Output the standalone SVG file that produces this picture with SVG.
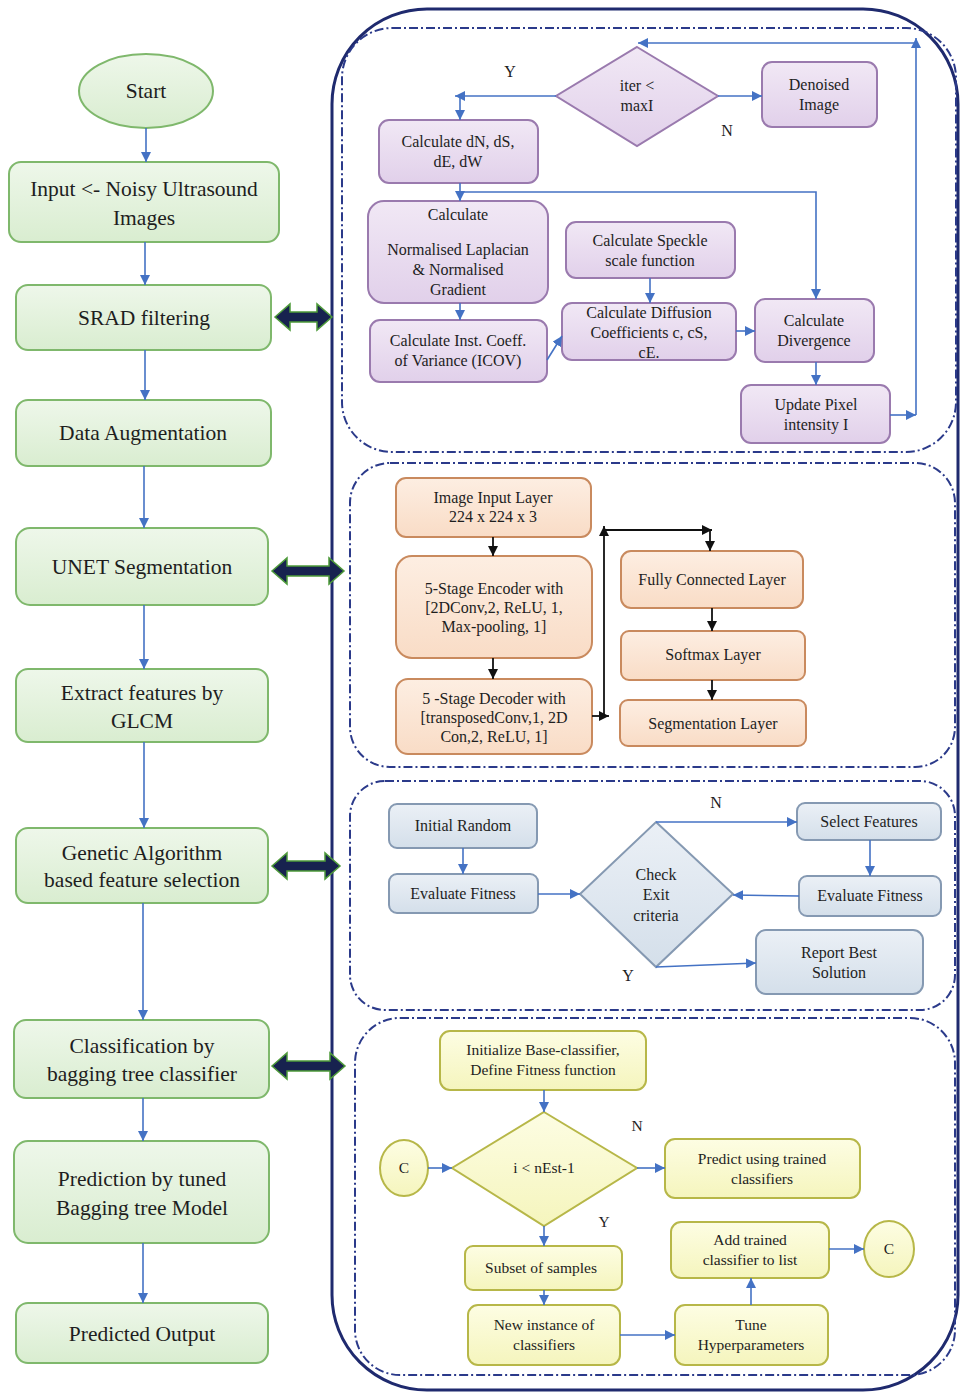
<svg xmlns="http://www.w3.org/2000/svg" width="961" height="1394" viewBox="0 0 961 1394">
<style>
text{font-family:"Liberation Serif","Times New Roman",serif;fill:#1e1e1e;text-anchor:middle}
.L{font-size:21.5px}
.s15{font-size:16px}
.s14{font-size:16px}
.s13{font-size:15.5px}
.g{fill:url(#gG);stroke:#7fb86c;stroke-width:2}
.p{fill:url(#gP);stroke:#9a7aae;stroke-width:2}
.o{fill:url(#gO);stroke:#c98a5e;stroke-width:2}
.b{fill:url(#gB);stroke:#8599b2;stroke-width:2}
.y{fill:url(#gY);stroke:#b7b748;stroke-width:2}
.c{fill:none;stroke:#4472c4;stroke-width:1.6}
.k{fill:none;stroke:#111;stroke-width:1.8}
.panel{fill:none;stroke:#2b3a8a;stroke-width:2;stroke-dasharray:9 3 2 3}
.dbl{fill:#17224f;stroke:#4e9a3a;stroke-width:1.5}
</style>
<defs>
<linearGradient id="gG" x1="0" y1="0" x2="0" y2="1"><stop offset="0" stop-color="#eef7ea"/><stop offset="1" stop-color="#d9edd0"/></linearGradient>
<linearGradient id="gP" x1="0" y1="0" x2="0" y2="1"><stop offset="0" stop-color="#f1e8f5"/><stop offset="1" stop-color="#e1d0ea"/></linearGradient>
<linearGradient id="gO" x1="0" y1="0" x2="0" y2="1"><stop offset="0" stop-color="#fdeee2"/><stop offset="1" stop-color="#f9dcc6"/></linearGradient>
<linearGradient id="gB" x1="0" y1="0" x2="0" y2="1"><stop offset="0" stop-color="#ebf0f6"/><stop offset="1" stop-color="#d4dfea"/></linearGradient>
<linearGradient id="gY" x1="0" y1="0" x2="0" y2="1"><stop offset="0" stop-color="#fdfde3"/><stop offset="1" stop-color="#f5f5bd"/></linearGradient>
<marker id="ab" viewBox="0 0 10 10" refX="10" refY="5" markerWidth="10" markerHeight="10" markerUnits="userSpaceOnUse" orient="auto"><path d="M0,0 L10,5 L0,10 z" fill="#4472c4"/></marker>
<marker id="ak" viewBox="0 0 10 10" refX="10" refY="5" markerWidth="10" markerHeight="10" markerUnits="userSpaceOnUse" orient="auto"><path d="M0,0 L10,5 L0,10 z" fill="#111"/></marker>
</defs>

<!-- outer container and panels -->
<g id="containers">
<rect x="332" y="9" width="626" height="1381" rx="95" fill="none" stroke="#1f2a6e" stroke-width="3"/>
<rect class="panel" x="342" y="28" width="614" height="424" rx="50"/>
<rect class="panel" x="350" y="463" width="605" height="304" rx="40"/>
<rect class="panel" x="350" y="781" width="605" height="229" rx="35"/>
<rect class="panel" x="355" y="1018" width="600" height="357" rx="45"/>
</g>

<!-- double arrows -->
<g id="links">
<polygon class="dbl" points="275,317 290,304 290,312 317,312 317,304 332,317 317,330 317,322 290,322 290,330"/>
<polygon class="dbl" points="272,571 287,558 287,566 329,566 329,558 344,571 329,584 329,576 287,576 287,584"/>
<polygon class="dbl" points="272,866 287,853 287,861 325,861 325,853 340,866 325,879 325,871 287,871 287,879"/>
<polygon class="dbl" points="272,1066 287,1053 287,1061 330,1061 330,1053 345,1066 330,1079 330,1071 287,1071 287,1079"/>
</g>

<!-- left column -->
<g id="start"><ellipse class="g" cx="146" cy="91" rx="67" ry="37"/><text class="L" x="146" y="98">Start</text></g>
<g id="input"><rect class="g" x="9" y="162" width="270" height="80" rx="12"/><text class="L" x="144" y="196">Input &lt;- Noisy Ultrasound</text><text class="L" x="144" y="225">Images</text></g>
<g id="srad"><rect class="g" x="16" y="285" width="255" height="65" rx="12"/><text class="L" x="144" y="325">SRAD filtering</text></g>
<g id="aug"><rect class="g" x="16" y="400" width="255" height="66" rx="12"/><text class="L" x="143" y="440">Data Augmentation</text></g>
<g id="unet"><rect class="g" x="16" y="528" width="252" height="77" rx="14"/><text class="L" x="142" y="574">UNET  Segmentation</text></g>
<g id="glcm"><rect class="g" x="16" y="669" width="252" height="73" rx="12"/><text class="L" x="142" y="700">Extract  features by</text><text class="L" x="142" y="728">GLCM</text></g>
<g id="ga"><rect class="g" x="16" y="828" width="252" height="75" rx="12"/><text class="L" x="142" y="860">Genetic Algorithm</text><text class="L" x="142" y="887">based feature selection</text></g>
<g id="cls"><rect class="g" x="14" y="1020" width="255" height="78" rx="12"/><text class="L" x="142" y="1053">Classification by</text><text class="L" x="142" y="1081">bagging tree classifier</text></g>
<g id="pred"><rect class="g" x="14" y="1141" width="255" height="102" rx="14"/><text class="L" x="142" y="1186">Prediction by tuned</text><text class="L" x="142" y="1215">Bagging tree Model</text></g>
<g id="out"><rect class="g" x="16" y="1303" width="252" height="60" rx="12"/><text class="L" x="142" y="1341">Predicted Output</text></g>

<!-- SRAD panel nodes -->
<g id="iter"><polygon class="p" points="637,47 718,96 637,146 556,96"/><text class="s15" x="637" y="91">iter &lt;</text><text class="s15" x="637" y="111">maxI</text></g>
<g id="denoised"><rect class="p" x="762" y="62" width="115" height="65" rx="10"/><text class="s15" x="819" y="90">Denoised</text><text class="s15" x="819" y="110">Image</text></g>
<g id="dn"><rect class="p" x="379" y="120" width="159" height="63" rx="10"/><text class="s15" x="458" y="147">Calculate dN, dS,</text><text class="s15" x="458" y="167">dE, dW</text></g>
<g id="lap"><rect class="p" x="368" y="201" width="180" height="102" rx="16"/><text class="s15" x="458" y="220">Calculate</text><text class="s15" x="458" y="255">Normalised Laplacian</text><text class="s15" x="458" y="275">&amp; Normalised</text><text class="s15" x="458" y="295">Gradient</text></g>
<g id="speckle"><rect class="p" x="566" y="222" width="169" height="56" rx="10"/><text class="s15" x="650" y="246">Calculate Speckle</text><text class="s15" x="650" y="266">scale function</text></g>
<g id="icov"><rect class="p" x="370" y="320" width="177" height="62" rx="10"/><text class="s15" x="458" y="346">Calculate Inst. Coeff.</text><text class="s15" x="458" y="366">of Variance (ICOV)</text></g>
<g id="diff"><rect class="p" x="562" y="303" width="174" height="57" rx="10"/><text class="s15" x="649" y="318">Calculate Diffusion</text><text class="s15" x="649" y="338">Coefficients c, cS,</text><text class="s15" x="649" y="358">cE.</text></g>
<g id="div"><rect class="p" x="755" y="299" width="119" height="63" rx="10"/><text class="s15" x="814" y="326">Calculate</text><text class="s15" x="814" y="346">Divergence</text></g>
<g id="upd"><rect class="p" x="741" y="385" width="149" height="58" rx="10"/><text class="s15" x="816" y="410">Update Pixel</text><text class="s15" x="816" y="430">intensity I</text></g>
<g id="srad-labels"><text class="s15" x="510" y="77">Y</text><text class="s15" x="727" y="136">N</text></g>

<!-- UNET panel nodes -->
<g id="inlayer"><rect class="o" x="396" y="478" width="195" height="59" rx="10"/><text class="s14" x="493" y="503">Image Input Layer</text><text class="s14" x="493" y="522">224 x 224 x 3</text></g>
<g id="enc"><rect class="o" x="396" y="556" width="196" height="102" rx="16"/><text class="s14" x="494" y="594">5-Stage Encoder with</text><text class="s14" x="494" y="613">[2DConv,2, ReLU, 1,</text><text class="s14" x="494" y="632">Max-pooling, 1]</text></g>
<g id="dec"><rect class="o" x="396" y="679" width="196" height="75" rx="12"/><text class="s14" x="494" y="704">5 -Stage Decoder with</text><text class="s14" x="494" y="723">[transposedConv,1, 2D</text><text class="s14" x="494" y="742">Con,2, ReLU, 1]</text></g>
<g id="fc"><rect class="o" x="621" y="551" width="182" height="57" rx="10"/><text class="s14" x="712" y="585">Fully Connected Layer</text></g>
<g id="soft"><rect class="o" x="621" y="631" width="184" height="49" rx="8"/><text class="s14" x="713" y="660">Softmax Layer</text></g>
<g id="seg"><rect class="o" x="620" y="700" width="186" height="46" rx="8"/><text class="s14" x="713" y="729">Segmentation Layer</text></g>

<!-- GA panel nodes -->
<g id="initrand"><rect class="b" x="389" y="804" width="148" height="44" rx="8"/><text class="s14" x="463" y="831">Initial Random</text></g>
<g id="evall"><rect class="b" x="389" y="874" width="149" height="39" rx="8"/><text class="s14" x="463" y="899">Evaluate Fitness</text></g>
<g id="check"><polygon class="b" points="656,822 733,894 656,967 580,894"/><text class="s14" x="656" y="880">Check</text><text class="s14" x="656" y="900">Exit</text><text class="s14" x="656" y="921">criteria</text></g>
<g id="selfeat"><rect class="b" x="797" y="803" width="144" height="37" rx="8"/><text class="s14" x="869" y="827">Select Features</text></g>
<g id="evalr"><rect class="b" x="799" y="876" width="142" height="40" rx="8"/><text class="s14" x="870" y="901">Evaluate Fitness</text></g>
<g id="report"><rect class="b" x="756" y="930" width="167" height="64" rx="10"/><text class="s14" x="839" y="958">Report Best</text><text class="s14" x="839" y="978">Solution</text></g>
<g id="ga-labels"><text class="s14" x="716" y="808">N</text><text class="s14" x="628" y="981">Y</text></g>

<!-- Bagging panel nodes -->
<g id="initbase"><rect class="y" x="440" y="1031" width="206" height="59" rx="10"/><text class="s13" x="543" y="1055">Initialize Base-classifier,</text><text class="s13" x="543" y="1075">Define Fitness function</text></g>
<g id="nest"><polygon class="y" points="544,1112 637,1168 544,1226 452,1168"/><text class="s13" x="544" y="1173">i &lt; nEst-1</text></g>
<g id="c1"><ellipse class="y" cx="404" cy="1168" rx="24" ry="28"/><text class="s13" x="404" y="1173">C</text></g>
<g id="predict"><rect class="y" x="665" y="1139" width="195" height="59" rx="10"/><text class="s13" x="762" y="1164">Predict using trained</text><text class="s13" x="762" y="1184">classifiers</text></g>
<g id="subset"><rect class="y" x="465" y="1246" width="157" height="44" rx="8"/><text class="s13" x="541" y="1273">Subset of samples</text></g>
<g id="newinst"><rect class="y" x="468" y="1305" width="152" height="60" rx="10"/><text class="s13" x="544" y="1330">New instance of</text><text class="s13" x="544" y="1350">classifiers</text></g>
<g id="tune"><rect class="y" x="675" y="1305" width="153" height="60" rx="10"/><text class="s13" x="751" y="1330">Tune</text><text class="s13" x="751" y="1350">Hyperparameters</text></g>
<g id="addlist"><rect class="y" x="671" y="1222" width="158" height="56" rx="10"/><text class="s13" x="750" y="1245">Add  trained</text><text class="s13" x="750" y="1265">classifier to list</text></g>
<g id="c2"><ellipse class="y" cx="889" cy="1249" rx="25" ry="28"/><text class="s13" x="889" y="1254">C</text></g>
<g id="bag-labels"><text class="s13" x="637" y="1131">N</text><text class="s13" x="604" y="1227">Y</text></g>

<!-- connectors -->
<g id="connectors">
<line class="c" x1="146" y1="128" x2="146" y2="162" marker-end="url(#ab)"/>
<line class="c" x1="145" y1="242" x2="145" y2="285" marker-end="url(#ab)"/>
<line class="c" x1="145" y1="350" x2="145" y2="400" marker-end="url(#ab)"/>
<line class="c" x1="144" y1="466" x2="144" y2="528" marker-end="url(#ab)"/>
<line class="c" x1="144" y1="605" x2="144" y2="669" marker-end="url(#ab)"/>
<line class="c" x1="144" y1="742" x2="144" y2="828" marker-end="url(#ab)"/>
<line class="c" x1="143" y1="903" x2="143" y2="1020" marker-end="url(#ab)"/>
<line class="c" x1="143" y1="1098" x2="143" y2="1141" marker-end="url(#ab)"/>
<line class="c" x1="143" y1="1243" x2="143" y2="1303" marker-end="url(#ab)"/>

<!-- SRAD -->
<line class="c" x1="556" y1="96" x2="455" y2="96" marker-end="url(#ab)"/>
<line class="c" x1="460" y1="96" x2="460" y2="120" marker-end="url(#ab)"/>
<line class="c" x1="718" y1="96" x2="762" y2="96" marker-end="url(#ab)"/>
<line class="c" x1="460" y1="183" x2="460" y2="201" marker-end="url(#ab)"/>
<polyline class="c" points="460,192 816,192 816,299" marker-end="url(#ab)"/>
<line class="c" x1="460" y1="303" x2="460" y2="320" marker-end="url(#ab)"/>
<line class="c" x1="547" y1="360" x2="562" y2="336" marker-end="url(#ab)"/>
<line class="c" x1="650" y1="278" x2="650" y2="303" marker-end="url(#ab)"/>
<line class="c" x1="736" y1="331" x2="755" y2="331" marker-end="url(#ab)"/>
<line class="c" x1="816" y1="362" x2="816" y2="385" marker-end="url(#ab)"/>
<line class="c" x1="890" y1="415" x2="916" y2="415" marker-end="url(#ab)"/>
<line class="c" x1="916" y1="415" x2="916" y2="38" marker-end="url(#ab)"/>
<line class="c" x1="916" y1="43" x2="638" y2="43" marker-end="url(#ab)"/>

<!-- UNET -->
<line class="k" x1="493" y1="537" x2="493" y2="556" marker-end="url(#ak)"/>
<line class="k" x1="493" y1="658" x2="493" y2="679" marker-end="url(#ak)"/>
<line class="k" x1="592" y1="716" x2="609" y2="716" marker-end="url(#ak)"/>
<line class="k" x1="604" y1="716" x2="604" y2="526" marker-end="url(#ak)"/>
<line class="k" x1="604" y1="530" x2="712" y2="530" marker-end="url(#ak)"/>
<line class="k" x1="710" y1="530" x2="710" y2="551" marker-end="url(#ak)"/>
<line class="k" x1="712" y1="608" x2="712" y2="631" marker-end="url(#ak)"/>
<line class="k" x1="712" y1="680" x2="712" y2="700" marker-end="url(#ak)"/>

<!-- GA -->
<line class="c" x1="463" y1="848" x2="463" y2="874" marker-end="url(#ab)"/>
<line class="c" x1="538" y1="894" x2="580" y2="894" marker-end="url(#ab)"/>
<line class="c" x1="656" y1="822" x2="797" y2="822" marker-end="url(#ab)"/>
<line class="c" x1="870" y1="840" x2="870" y2="876" marker-end="url(#ab)"/>
<line class="c" x1="799" y1="896" x2="733" y2="895" marker-end="url(#ab)"/>
<line class="c" x1="656" y1="967" x2="756" y2="963" marker-end="url(#ab)"/>

<!-- Bagging -->
<line class="c" x1="544" y1="1090" x2="544" y2="1112" marker-end="url(#ab)"/>
<line class="c" x1="428" y1="1168" x2="452" y2="1168" marker-end="url(#ab)"/>
<line class="c" x1="637" y1="1168" x2="665" y2="1168" marker-end="url(#ab)"/>
<line class="c" x1="544" y1="1226" x2="544" y2="1246" marker-end="url(#ab)"/>
<line class="c" x1="544" y1="1290" x2="544" y2="1305" marker-end="url(#ab)"/>
<line class="c" x1="620" y1="1335" x2="675" y2="1335" marker-end="url(#ab)"/>
<line class="c" x1="751" y1="1305" x2="751" y2="1278" marker-end="url(#ab)"/>
<line class="c" x1="829" y1="1249" x2="864" y2="1249" marker-end="url(#ab)"/>
</g>
</svg>
